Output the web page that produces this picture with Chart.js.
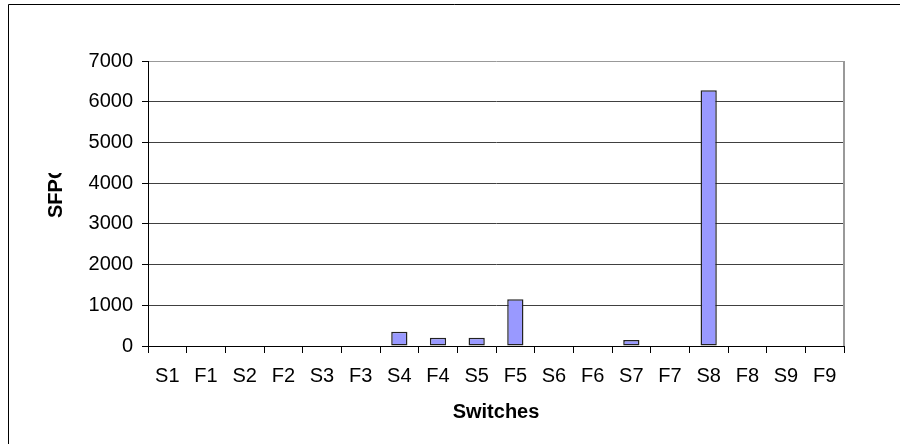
<!DOCTYPE html>
<html>
<head>
<meta charset="utf-8">
<script src="https://cdn.jsdelivr.net/npm/chart.js@4.4.0/dist/chart.umd.min.js"></script>
<style>
  html, body { margin: 0; padding: 0; background: #fff; }
  canvas { display: block; }
</style>
</head>
<body>
<canvas id="myChart" width="900" height="444"></canvas>
<script>
var categories = ['S1', 'F1', 'S2', 'F2', 'S3', 'F3', 'S4', 'F4', 'S5', 'F5', 'S6', 'F6', 'S7', 'F7', 'S8', 'F8', 'S9', 'F9'];
var sfpcValues = [0, 0, 0, 0, 0, 0, 350, 200, 200, 1150, 0, 0, 150, 0, 6280, 0, 0, 0];
var yTicks = [0, 1000, 2000, 3000, 4000, 5000, 6000, 7000];

var fontFamily = "'Liberation Sans', Arial, sans-serif";

// frame, plot border and the two axis titles (Excel look)
var decorations = {
    id: 'decorations',
    afterDraw: function(chart) {
        var c = chart.ctx;
        var area = chart.chartArea;
        c.save();

        // outer chart frame (only left and top visible)
        c.strokeStyle = '#000';
        c.lineWidth = 1;
        c.beginPath();
        c.moveTo(8.5, 444);
        c.lineTo(8.5, 4.5);
        c.lineTo(900, 4.5);
        c.stroke();

        // plot area right border
        c.strokeStyle = '#999';
        c.lineWidth = 2;
        c.beginPath();
        c.moveTo(area.right, area.top);
        c.lineTo(area.right, area.bottom);
        c.stroke();

        // x title
        c.fillStyle = '#000';
        c.font = 'bold 20px ' + fontFamily;
        c.textAlign = 'center';
        c.textBaseline = 'middle';
        c.fillText('Switches', (area.left + area.right) / 2, 412);

        // y title, clipped like in the original
        c.beginPath();
        c.rect(0, 173, 140, 271);
        c.clip();
        c.translate(56, 218);
        c.rotate(-Math.PI / 2);
        c.textAlign = 'left';
        c.fillText('SFPC', 0, 0);
        c.restore();
    }
};

var ctx = document.getElementById('myChart').getContext('2d');
var myChart = new Chart(ctx, {
    type: 'bar',
    data: {
        labels: categories,
        datasets: [{
            label: 'SFPC',
            data: sfpcValues,
            backgroundColor: '#9999FF',
            borderColor: '#222',
            borderWidth: function(c) { return c.raw === 0 ? 0 : 1.5; },
            borderSkipped: false,
            categoryPercentage: 1,
            barPercentage: 0.42
        }]
    },
    options: {
        responsive: false,
        animation: false,
        layout: {
            padding: { left: 0, top: 61, right: 56, bottom: 0 }
        },
        plugins: {
            legend: { display: false },
            tooltip: { enabled: false }
        },
        scales: {
            y: {
                min: 0,
                max: 7000,
                afterFit: function(s) { s.width = 148; },
                afterBuildTicks: function(s) {
                    s.ticks = yTicks.map(function(v) { return { value: v }; });
                },
                border: { display: true, color: '#000', width: 1 },
                grid: {
                    color: function(c) { return c.tick && c.tick.value === 7000 ? '#999' : '#404040'; },
                    tickColor: '#000',
                    tickLength: 6,
                    lineWidth: 1
                },
                ticks: {
                    color: '#000',
                    padding: 9,
                    font: { family: fontFamily, size: 20 },
                    callback: function(v) { return String(v); }
                }
            },
            x: {
                afterFit: function(s) { s.height = 98; },
                border: { display: true, color: '#000', width: 1 },
                grid: {
                    offset: true,
                    drawOnChartArea: false,
                    tickColor: '#000',
                    tickLength: 7
                },
                ticks: {
                    color: '#000',
                    padding: 11,
                    maxRotation: 0,
                    autoSkip: false,
                    font: { family: fontFamily, size: 20 }
                }
            }
        }
    },
    plugins: [decorations]
});
</script>
</body>
</html>
